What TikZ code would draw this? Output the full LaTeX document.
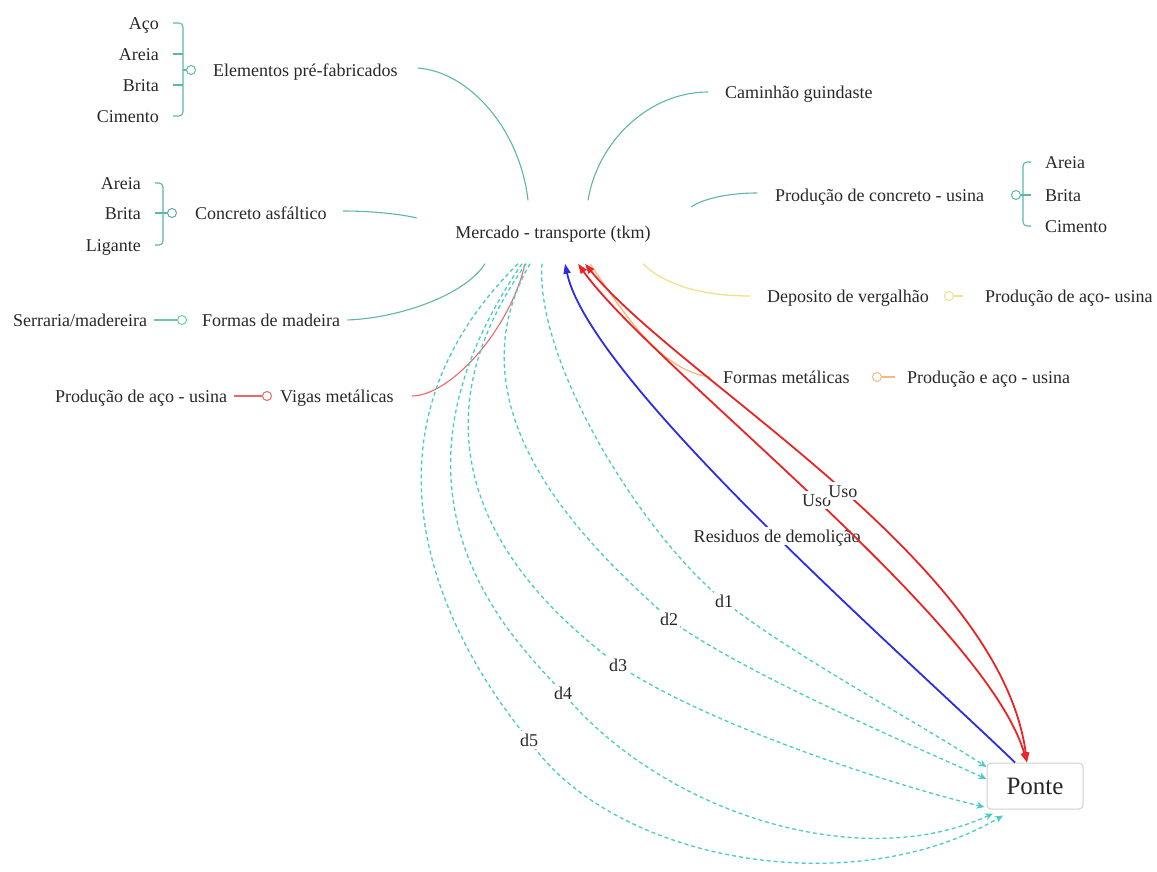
\documentclass[tikz,border=0pt]{standalone}
\usepackage{fontspec}
\setmainfont{Liberation Serif}
\usetikzlibrary{arrows.meta,calc}

\definecolor{txt}{RGB}{40,40,40}
\definecolor{mapteal}{RGB}{92,182,172}
\definecolor{dteal}{RGB}{72,204,196}
\definecolor{ured}{RGB}{232,36,36}
\definecolor{rblue}{RGB}{44,44,228}
\definecolor{vred}{RGB}{234,104,104}
\definecolor{dyellow}{RGB}{243,224,140}
\definecolor{forange}{RGB}{246,184,128}
\definecolor{sgreen}{RGB}{104,204,164}
\definecolor{pgray}{RGB}{208,208,208}

\begin{document}
\begin{tikzpicture}[x=1pt,y=-1pt,
  lbl/.style={font=\fontsize{18}{20}\selectfont, text=txt, inner sep=0pt,
              text height=14pt, text depth=1pt},
  onlbl/.style={lbl, fill=white, inner sep=1.5pt},
  mapc/.style={draw=mapteal, line width=1.1pt},
  dot/.style={circle, draw=#1, fill=white, line width=1pt, minimum size=9pt, inner sep=0pt},
  dline/.style={draw=dteal, line width=1.3pt, dash pattern=on 4pt off 3pt,
                -{Stealth[length=8pt,width=7pt]}},
  uso/.style={draw=ured, line width=1.8pt,
              {Triangle[length=10pt,width=7pt]}-{Triangle[length=10pt,width=7pt]}},
  demo/.style={draw=rblue, line width=1.8pt, -{Triangle[length=10pt,width=7pt]}}
]
\useasboundingbox (0,0) rectangle (1157,872);

% central market node and the bridge
\node[lbl, minimum width=272pt, minimum height=63pt] (merc) at (553,232) {Mercado - transporte (tkm)};
\node[draw=pgray, line width=1pt, rounded corners=4pt, fill=white, minimum width=96pt,
      minimum height=46pt, inner sep=0pt, font=\fontsize{25}{28}\selectfont, text=txt]
      (ponte) at (1035,786) {Ponte};

% ---------- upper left: precast elements ----------
\node[lbl, anchor=east] (aco)  at (159,23)  {Aço};
\node[lbl, anchor=east] (are1) at (159,54)  {Areia};
\node[lbl, anchor=east] (bri1) at (159,85)  {Brita};
\node[lbl, anchor=east] (cim1) at (159,116) {Cimento};
\node[lbl, anchor=west] (elem) at (213,70)  {Elementos pré-fabricados};
\node[dot=mapteal] (ce) at (191,70) {};
\coordinate (bx1) at (183,70);
\draw[mapc, rounded corners=4pt] ($(aco.east)+(14,0)$) -- (aco.east -| bx1) -- (cim1.east -| bx1) -- ($(cim1.east)+(14,0)$);
\draw[mapc] ($(are1.east)+(14,0)$) -- (are1.east -| bx1);
\draw[mapc] ($(bri1.east)+(14,0)$) -- (bri1.east -| bx1);
\draw[mapc] (ce.west) -- (bx1);

% ---------- asphalt concrete ----------
\node[lbl, anchor=east] (are2) at (141,183) {Areia};
\node[lbl, anchor=east] (bri2) at (141,213) {Brita};
\node[lbl, anchor=east] (lig)  at (141,245) {Ligante};
\node[lbl, anchor=west] (casf) at (195,213) {Concreto asfáltico};
\node[dot=mapteal!70!gray] (cc) at (172,213) {};
\coordinate (bx2) at (163,213);
\draw[mapc, rounded corners=4pt] ($(are2.east)+(14,0)$) -- (are2.east -| bx2) -- (lig.east -| bx2) -- ($(lig.east)+(14,0)$);
\draw[mapc] ($(bri2.east)+(14,0)$) -- (cc.west);

% ---------- concrete plant ----------
\node[lbl, anchor=west] (cam)   at (725,92)   {Caminhão guindaste};
\node[lbl, anchor=west] (pconc) at (775,195)  {Produção de concreto - usina};
\node[lbl, anchor=west] (are3)  at (1045,162) {Areia};
\node[lbl, anchor=west] (bri3)  at (1045,195) {Brita};
\node[lbl, anchor=west] (cim3)  at (1045,226) {Cimento};
\node[dot=mapteal] (cp) at (1016,195) {};
\coordinate (bx3) at (1023,195);
\draw[mapc, rounded corners=4pt] ($(are3.west)+(-14,0)$) -- (are3.west -| bx3) -- (cim3.west -| bx3) -- ($(cim3.west)+(-14,0)$);
\draw[mapc] (cp.east) -- ($(bri3.west)+(-14,0)$);

% ---------- steel items on the right ----------
\node[lbl, anchor=west] (dep)   at (767,296) {Deposito de vergalhão};
\node[lbl, anchor=west] (paco2) at (985,296) {Produção de aço- usina};
\node[dot=dyellow] (cd) at (949,296) {};
\draw[draw=dyellow, line width=1.1pt] (cd.east) -- ($(paco2.west)+(-22,0)$);
\node[lbl, anchor=west] (fmet) at (723,377) {Formas metálicas};
\node[lbl, anchor=west] (pea)  at (907,377) {Produção e aço - usina};
\node[dot=forange] (cf) at (877,377) {};
\draw[draw=forange, line width=1.1pt] (cf.east) -- ($(pea.west)+(-12,0)$);

% ---------- wood forms and steel beams on the left ----------
\node[lbl, anchor=west] (serr)  at (13,320)  {Serraria/madereira};
\node[lbl, anchor=west] (fmad)  at (202,320) {Formas de madeira};
\node[dot=sgreen] (cs) at (182,320) {};
\draw[draw=sgreen, line width=1.1pt] ($(serr.east)+(7,0)$) -- (cs.west);
\node[lbl, anchor=west] (paco1) at (55,396)  {Produção de aço - usina};
\node[lbl, anchor=west] (vigas) at (280,396) {Vigas metálicas};
\node[dot=vred] (cv) at (267,396) {};
\draw[draw=vred, line width=1.1pt] ($(paco1.east)+(7,0)$) -- (cv.west);

% ---------- branches into the market node ----------
\draw[mapc] ($(elem.east)+(20,-2)$) .. controls (470,72) and (520,130) .. ($(merc.north)+(-25,0)$);
\draw[mapc] ($(cam.west)+(-17,0)$) .. controls (650,92) and (598,140) .. ($(merc.north)+(35,0)$);
\draw[mapc] ($(casf.east)+(16,-2)$) .. controls (372,211) and (400,214) .. ($(merc.west)+(0,-14)$);
\draw[mapc] ($(pconc.west)+(-18,-2)$) .. controls (728,193) and (702,199) .. ($(merc.east)+(2,-25)$);
\draw[mapc] ($(fmad.east)+(7,0)$) .. controls (400,318) and (465,295) .. ($(merc.south)+(-68,0)$);
\draw[draw=dyellow, line width=1.3pt] ($(merc.south)+(90,0)$) .. controls (670,290) and (715,296) .. ($(dep.west)+(-17,0)$);
\draw[draw=forange, line width=1.3pt] ($(merc.south)+(37,0)$) .. controls (625,315) and (660,370) .. ($(fmet.west)+(-13,0)$);
\draw[draw=vred, line width=1.1pt] ($(vigas.east)+(18,0)$) .. controls (450,396) and (510,330) .. ($(merc.south)+(-28,0)$);

% ---------- transport distances to the bridge ----------
\draw[dline] ($(merc.south)+(-11,0)$) .. controls (535,360) and (639,531) .. (724,601)
  node[onlbl] {d1} .. controls (784,650) and (917,722) .. ($(ponte.west)+(0,-19)$);
\draw[dline] ($(merc.south)+(-23,0)$) .. controls (440,420) and (609,563) .. (669,619)
  node[onlbl] {d2} .. controls (739,671) and (907,743) .. ($(ponte.west)+(0,-7)$);
\draw[dline] ($(merc.south)+(-27,0)$) .. controls (380,470) and (548,612) .. (618,665)
  node[onlbl] {d3} .. controls (708,725) and (895,786) .. ($(ponte.west)+(-2,21)$);
\draw[dline] ($(merc.south)+(-31,0)$) .. controls (360,500) and (518,643) .. (563,693)
  node[onlbl] {d4} .. controls (663,813) and (860,875) .. ($(ponte.south)+(-42,4)$);
\draw[dline] ($(merc.south)+(-35,0)$) .. controls (320,460) and (479,680) .. (529,740)
  node[onlbl] {d5} .. controls (610,860) and (850,905) .. ($(ponte.south)+(-32,6)$);

% ---------- use and demolition flows ----------
\draw[demo] ($(ponte.north)+(-20,0)$) .. controls (895,647) and (590,380) ..
  node[onlbl, pos=0.46] {Residuos de demolição} ($(merc.south)+(12,0)$);
\draw[uso] ($(merc.south)+(25,0)$) .. controls (650,365) and (985,620) ..
  node[onlbl, pos=0.505] {Uso} ($(ponte.north)+(-8,0)$);
\draw[uso] ($(merc.south)+(32,0)$) .. controls (680,380) and (1000,560) ..
  node[onlbl, pos=0.52] {Uso} ($(ponte.north)+(-8,0)$);
\end{tikzpicture}
\end{document}
